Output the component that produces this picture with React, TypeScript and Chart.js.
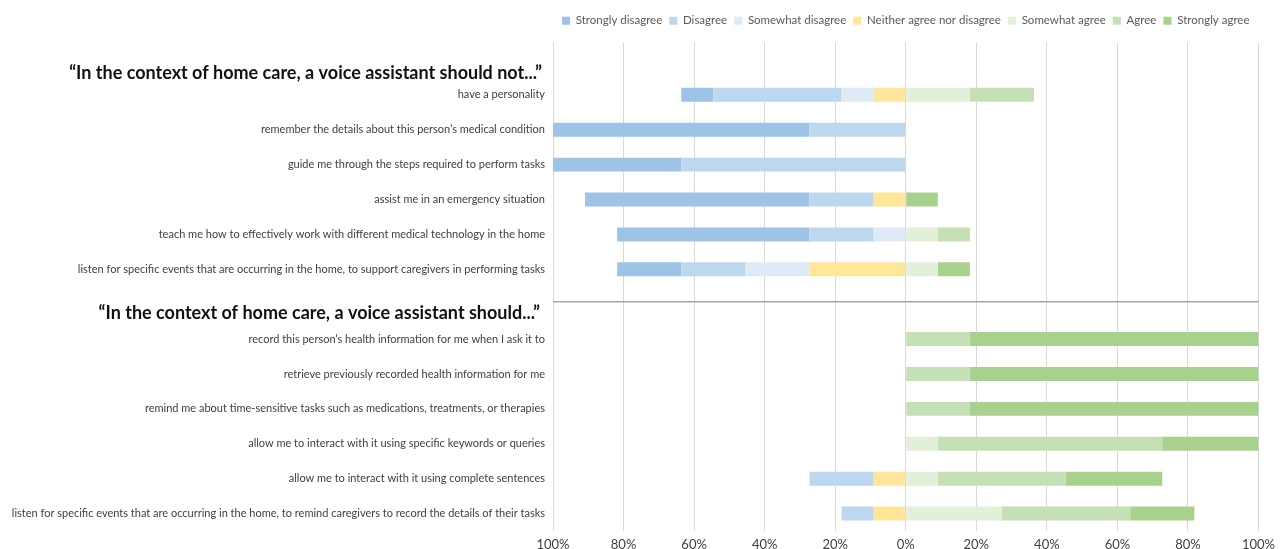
import React, { useEffect, useRef } from "react";
import { Chart, registerables } from "chart.js";

Chart.register(...registerables);

// Category rows (empty strings are the slots of the two group headings)
const categories: string[] = [
  "",
  "have a personality",
  "remember the details about this person’s medical condition",
  "guide me through the steps required to perform tasks",
  "assist me in an emergency situation",
  "teach me how to effectively work with different medical technology in the home",
  "listen for specific events that are occurring in the home, to support caregivers in performing tasks",
  "",
  "record this person’s health information for me when I ask it to",
  "retrieve previously recorded health information for me",
  "remind me about time-sensitive tasks such as medications, treatments, or therapies",
  "allow me to interact with it using specific keywords or queries",
  "allow me to interact with it using complete sentences",
  "listen for specific events that are occurring in the home, to remind caregivers to record the details of their tasks",
];

const headings: string[] = [
  "“In the context of home care, a voice assistant should not...”",
  "“In the context of home care, a voice assistant should...”",
];

// Percent of respondents (disagree side given as positive shares)
const stronglyDisagree: number[] = [0, 9.09, 72.73, 36.36, 63.64, 54.55, 18.18, 0, 0, 0, 0, 0, 0, 0];
const disagree: number[] = [0, 36.36, 27.27, 63.64, 18.18, 18.18, 18.18, 0, 0, 0, 0, 0, 18.18, 9.09];
const somewhatDisagree: number[] = [0, 9.09, 0, 0, 0, 9.09, 18.18, 0, 0, 0, 0, 0, 0, 0];
const neither: number[] = [0, 9.09, 0, 0, 9.09, 0, 27.27, 0, 0, 0, 0, 0, 9.09, 9.09];
const somewhatAgree: number[] = [0, 18.18, 0, 0, 0, 9.09, 9.09, 0, 0, 0, 0, 9.09, 9.09, 27.27];
const agree: number[] = [0, 18.18, 0, 0, 0, 9.09, 0, 0, 18.18, 18.18, 18.18, 63.64, 36.36, 36.36];
const stronglyAgree: number[] = [0, 0, 0, 0, 9.09, 0, 9.09, 0, 81.82, 81.82, 81.82, 27.27, 27.27, 18.18];

const xTicks: number[] = [-100, -80, -60, -40, -20, 0, 20, 40, 60, 80, 100];

const COLORS = {
  sd: "#9dc3e6",
  d: "#bdd7ee",
  swd: "#deebf7",
  n: "#ffe699",
  swa: "#e2f0d9",
  a: "#c5e0b4",
  sa: "#a9d18e",
};

const FONT = "Lato, 'Open Sans', sans-serif";

export default function App() {
  const canvasRef = useRef<HTMLCanvasElement | null>(null);

  useEffect(() => {
    document.body.style.margin = "0";
    const canvas = canvasRef.current;
    if (!canvas) return;

    const neg = (arr: number[]) => arr.map((v) => (v ? -v : 0));

    // dataset order = stacking order outward from 0
    const datasets = [
      { label: "Neither agree nor disagree", data: neg(neither), backgroundColor: COLORS.n, rank: 3 },
      { label: "Somewhat disagree", data: neg(somewhatDisagree), backgroundColor: COLORS.swd, rank: 2 },
      { label: "Disagree", data: neg(disagree), backgroundColor: COLORS.d, rank: 1 },
      { label: "Strongly disagree", data: neg(stronglyDisagree), backgroundColor: COLORS.sd, rank: 0 },
      { label: "Somewhat agree", data: somewhatAgree, backgroundColor: COLORS.swa, rank: 4 },
      { label: "Agree", data: agree, backgroundColor: COLORS.a, rank: 5 },
      { label: "Strongly agree", data: stronglyAgree, backgroundColor: COLORS.sa, rank: 6 },
    ];
    const ranks = datasets.map((d) => d.rank);

    const headingPlugin = {
      id: "headings",
      afterDraw(chart: any) {
        const { ctx, chartArea, scales } = chart;
        const y = scales.y;
        ctx.save();
        // separator line between the two groups
        const sepY = y.getPixelForValue(7) - 2.5;
        ctx.strokeStyle = "#a6a6a6";
        ctx.lineWidth = 1.5;
        ctx.beginPath();
        ctx.moveTo(chartArea.left, sepY);
        ctx.lineTo(chartArea.right, sepY);
        ctx.stroke();
        // headings
        ctx.fillStyle = "#111111";
        ctx.font = `bold 18px ${FONT}`;
        ctx.textAlign = "right";
        ctx.textBaseline = "middle";
        ctx.fillText(headings[0], chartArea.left - 11, y.getPixelForValue(0) + 13);
        ctx.fillText(headings[1], chartArea.left - 13, y.getPixelForValue(7) + 9);
        ctx.restore();
      },
    };

    const chart = new Chart(canvas, {
      type: "bar",
      data: {
        labels: categories,
        datasets: datasets.map(({ rank, ...d }) => ({
          ...d,
          barPercentage: 0.4,
          categoryPercentage: 1,
          borderWidth: 0,
        })),
      },
      options: {
        indexAxis: "y",
        animation: false,
        responsive: true,
        maintainAspectRatio: false,
        layout: { padding: { top: 8, right: 21, bottom: -9, left: 0 } },
        plugins: {
          legend: {
            position: "top",
            fullSize: false,
            labels: {
              boxWidth: 8,
              boxHeight: 8,
              padding: 7,
              color: "#595959",
              font: { family: FONT, size: 11.5 },
              sort: (a: any, b: any) => ranks[a.datasetIndex] - ranks[b.datasetIndex],
            },
          },
          tooltip: { enabled: false },
        },
        scales: {
          x: {
            stacked: true,
            min: -100,
            max: 100,
            afterBuildTicks: (scale: any) => {
              scale.ticks = xTicks.map((v) => ({ value: v }));
            },
            ticks: {
              callback: (v: any) => Math.abs(Number(v)) + "%",
              color: "#404040",
              font: { family: FONT, size: 13, lineHeight: 1 },
              padding: 7,
              maxRotation: 0,
            },
            grid: { color: "#d9d9d9", lineWidth: 1, drawTicks: false },
            border: { display: false },
          },
          // empty spacer axis between legend and plot area
          xTop: {
            type: "linear",
            axis: "x",
            position: "top",
            display: true,
            ticks: { display: false },
            grid: { display: false, drawTicks: false },
            border: { display: false },
            afterFit: (scale: any) => {
              scale.height = 6;
            },
          },
          y: {
            stacked: true,
            afterFit: (scale: any) => {
              scale.width = 553;
            },
            ticks: {
              autoSkip: false,
              color: "#404040",
              font: { family: FONT, size: 11 },
              padding: 8,
            },
            grid: { display: false, drawTicks: false },
            border: { display: false },
          },
        },
      },
      plugins: [headingPlugin],
    });

    return () => chart.destroy();
  }, []);

  return (
    <div style={{ position: "relative", width: "1282px", height: "549px" }}>
      <canvas ref={canvasRef} />
    </div>
  );
}
